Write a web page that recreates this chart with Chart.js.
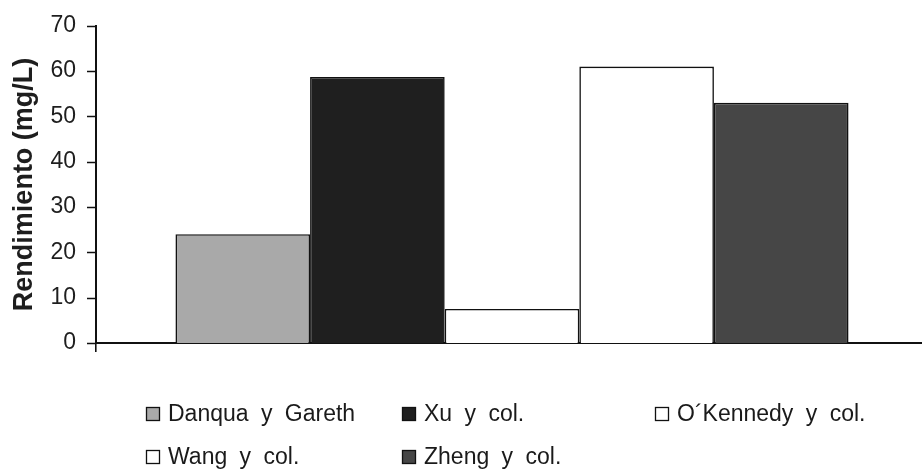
<!DOCTYPE html>
<html>
<head>
<meta charset="utf-8">
<script src="https://cdn.jsdelivr.net/npm/chart.js@4/dist/chart.umd.min.js"></script>
<style>
  html, body { margin: 0; padding: 0; background: #fff; overflow: hidden; }
  #wrap { position: relative; width: 928px; height: 474px; }
</style>
</head>
<body>
<div id="wrap"><canvas id="c"></canvas></div>
<script>
// Yield of each study (mg/L), one bar per study
const categories = [''];
const seriesNames = ['Danqua y Gareth', 'Xu y col.', 'O\u00b4Kennedy y col.', 'Wang y col.', 'Zheng y col.'];
const seriesValues = [24, 58.7, 7.5, 61, 53];
const yTickValues = [0, 10, 20, 30, 40, 50, 60, 70];
const yTitle = 'Rendimiento (mg/L)';

// Fill for each series
const seriesFills = ['#a9a9a9', '#1f1f1f', '#ffffff', '#ffffff', '#464646'];

const datasets = seriesNames.map((name, i) => ({
  label: name,
  data: [seriesValues[i]],
  backgroundColor: seriesFills[i],
  borderColor: '#111',
  borderWidth: 1.6,
  barPercentage: 1,
  categoryPercentage: 0.809
}));

// Legend laid out in three columns below the plot
const legendPlugin = {
  id: 'gridLegend',
  afterDraw(chart) {
    const ctx = chart.ctx;
    const colX = [146, 402, 655];
    const rowY = [414, 457];
    ctx.save();
    ctx.font = '23px "Liberation Sans", Arial, sans-serif';
    if ('wordSpacing' in ctx) ctx.wordSpacing = '6px';
    ctx.textBaseline = 'middle';
    ctx.textAlign = 'left';
    chart.data.datasets.forEach((ds, i) => {
      const x = colX[i % 3];
      const y = rowY[Math.floor(i / 3)];
      ctx.fillStyle = ds.backgroundColor;
      ctx.fillRect(x, y - 7, 13, 13);
      ctx.lineWidth = 1.3;
      ctx.strokeStyle = '#111';
      ctx.strokeRect(x + 0.5, y - 6.5, 13, 13);
      ctx.fillStyle = '#1a1a1a';
      ctx.fillText(ds.label, x + 22, y + 1);
    });
    ctx.restore();
  }
};

// Short tick marks on the outer side of the value axis
const yTickMarks = {
  id: 'yTickMarks',
  afterDraw(chart) {
    const y = chart.scales.y;
    const ctx = chart.ctx;
    ctx.save();
    ctx.strokeStyle = '#111';
    ctx.lineWidth = 1.6;
    ctx.beginPath();
    y.ticks.forEach(t => {
      const py = Math.round(y.getPixelForValue(t.value)) + 0.5;
      ctx.moveTo(y.right - 9, py);
      ctx.lineTo(y.right, py);
    });
    ctx.stroke();
    ctx.restore();
  }
};

new Chart(document.getElementById('c'), {
  type: 'bar',
  data: { labels: categories, datasets },
  options: {
    responsive: true,
    maintainAspectRatio: false,
    animation: false,
    devicePixelRatio: 1,
    layout: { padding: { top: 22, left: 0, right: 0, bottom: 0 } },
    plugins: { legend: { display: false }, tooltip: { enabled: false } },
    scales: {
      x: {
        offset: true,
        grid: { display: true, drawOnChartArea: false, drawTicks: true, tickLength: 9, color: '#111', lineWidth: 1.6, offset: true },
        border: { display: true, color: '#111', width: 2 },
        ticks: { display: true, font: { size: 1 }, color: 'rgba(0,0,0,0)' },
        afterFit(scale) { scale.height = 131; }
      },
      y: {
        min: 0,
        max: 70,
        afterBuildTicks(scale) { scale.ticks = yTickValues.map(v => ({ value: v })); },
        grid: { display: false },
        border: { display: true, color: '#111', width: 2 },
        ticks: {
          padding: 12,
          color: '#1e1e1e',
          font: { family: '"Liberation Sans", Arial, sans-serif', size: 23 }
        },
        title: {
          display: true,
          text: yTitle,
          color: '#1e1e1e',
          padding: { top: 8, bottom: 0 },
          font: { family: '"Liberation Sans", Arial, sans-serif', size: 27, weight: 'bold' }
        },
        afterFit(scale) { scale.width = 96; }
      }
    }
  },
  plugins: [legendPlugin, yTickMarks]
});
</script>
</body>
</html>
